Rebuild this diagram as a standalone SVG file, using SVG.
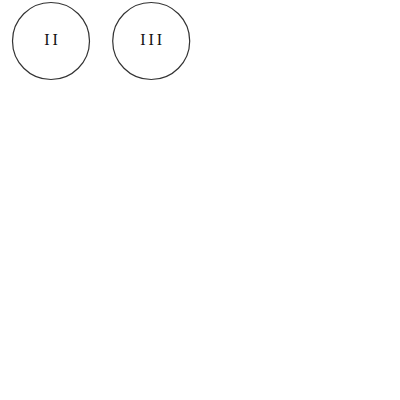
<svg xmlns="http://www.w3.org/2000/svg" width="400" height="400" viewBox="0 0 400 400">
<style>
.node circle{fill:#fff;stroke:#333;stroke-width:1.2}
.node text{font-family:"Liberation Serif",serif;font-size:16px;fill:#111;text-anchor:middle;letter-spacing:3px}
</style>
<rect width="400" height="400" fill="#fff"/>
<g id="connectors"></g>
<g id="node-II" class="node">
<circle cx="51" cy="41" r="38.5"/>
<text x="52.5" y="44.8">II</text>
</g>
<g id="node-III" class="node">
<circle cx="151.2" cy="41" r="38.5"/>
<text x="152.7" y="44.8">III</text>
</g>
</svg>
